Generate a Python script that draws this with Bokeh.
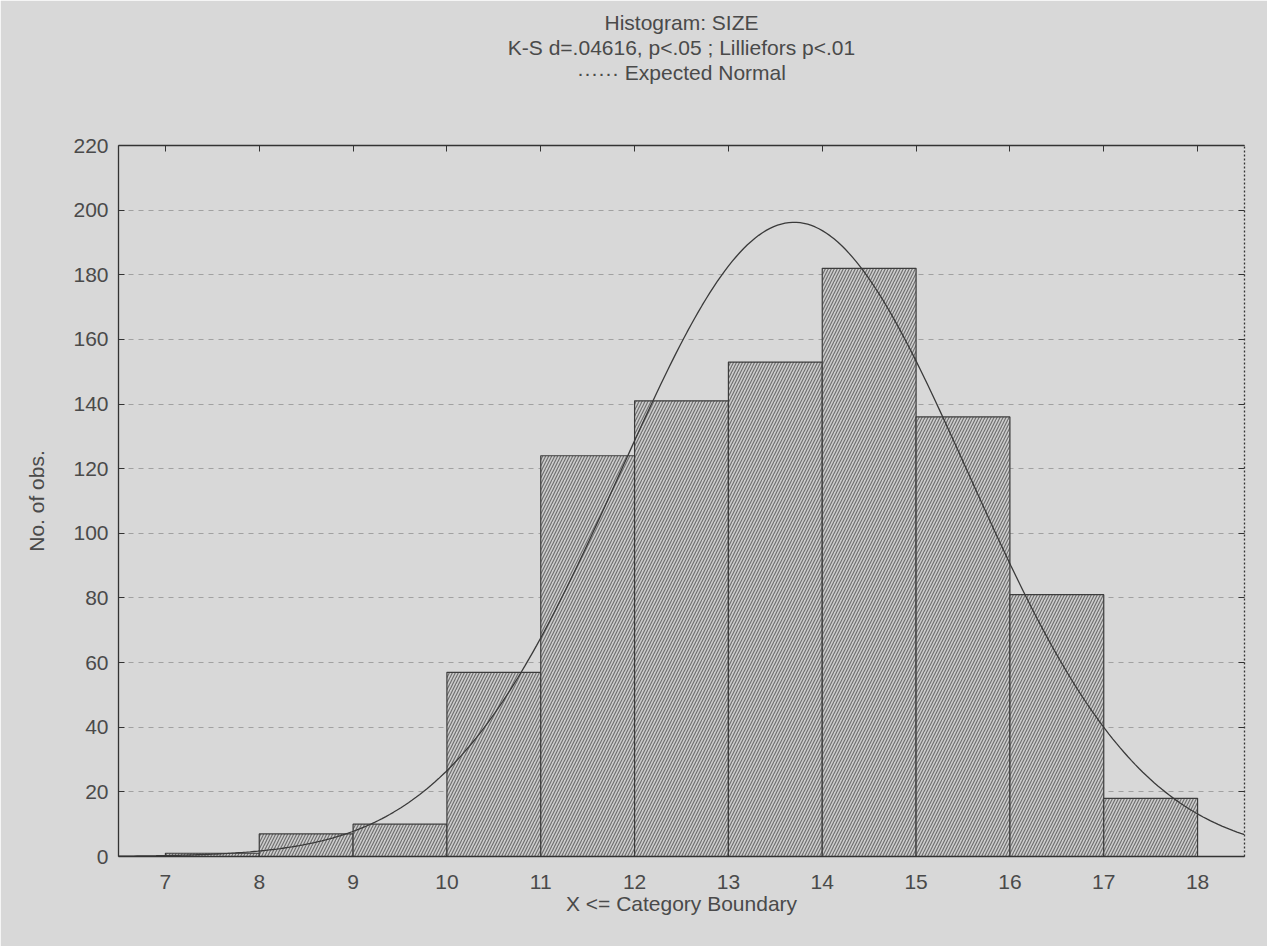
import numpy as np
from bokeh.plotting import figure
from bokeh.models import (LinearAxis, Title, Range1d, FixedTicker, ColumnDataSource)
from bokeh.embed import file_html
from bokeh.resources import INLINE

# ---- data ----
bin_edges = [7, 8, 9, 10, 11, 12, 13, 14, 15, 16, 17, 18]
counts = [1, 7, 10, 57, 124, 141, 153, 182, 136, 81, 18]
x_ticks = [7, 8, 9, 10, 11, 12, 13, 14, 15, 16, 17, 18]
y_ticks = [0, 20, 40, 60, 80, 100, 120, 140, 160, 180, 200, 220]
# expected-normal parameters (peak location and height)
normal_mean = 13.7
normal_sd = 1.85
bin_width = 1.0

BG = "#d8d8d8"
TXT = "#4a4a4a"
FONT = "Liberation Sans"

p = figure(width=1267, height=946, output_backend="svg", toolbar_location=None,
           x_range=Range1d(6.5, 18.5), y_range=Range1d(0, 220),
           x_axis_location=None, y_axis_location=None,
           min_border_left=118, min_border_right=23, min_border_top=145,
           min_border_bottom=90)
p.background_fill_color = BG
p.border_fill_color = BG
p.outline_line_color = None
p.xgrid.visible = False
p.ygrid.ticker = FixedTicker(ticks=y_ticks)
p.ygrid.grid_line_color = "#8a8a8a"
p.ygrid.grid_line_dash = "5 5"
p.ygrid.grid_line_alpha = 0.7

src = ColumnDataSource(dict(left=bin_edges[:-1], right=bin_edges[1:],
                            top=counts, bottom=[0] * len(counts)))
p.quad(left="left", right="right", top="top", bottom="bottom", source=src,
       fill_color="#cdcdcd", line_color="#3c3c3c", line_width=1.2,
       hatch_pattern="/", hatch_color="#707070", hatch_scale=6, hatch_weight=1.2)

total = sum(counts)
xs = np.linspace(6.5, 18.5, 300)
ys = total * bin_width / (normal_sd * np.sqrt(2 * np.pi)) * np.exp(-0.5 * ((xs - normal_mean) / normal_sd) ** 2)
p.line(xs, ys, line_color="#3a3a3a", line_width=1.3)

# axes
left = LinearAxis(ticker=FixedTicker(ticks=y_ticks), axis_label="No. of obs.")
bottom = LinearAxis(ticker=FixedTicker(ticks=x_ticks), axis_label="X <= Category Boundary")
top = LinearAxis(ticker=FixedTicker(ticks=x_ticks),
                 major_label_overrides={t: "" for t in x_ticks})
right = LinearAxis(ticker=FixedTicker(ticks=y_ticks),
                   major_label_overrides={t: "" for t in y_ticks})
for ax in (left, bottom, top, right):
    ax.axis_line_color = "#333333"
    ax.axis_line_width = 1.3
    ax.major_tick_line_color = "#333333"
    ax.minor_tick_line_color = None
    ax.major_label_text_font = FONT
    ax.major_label_text_font_size = "21px"
    ax.major_label_text_color = TXT
    ax.axis_label_text_font = FONT
    ax.axis_label_text_font_size = "21px"
    ax.axis_label_text_font_style = "normal"
    ax.axis_label_text_color = TXT
    ax.major_tick_out = 0
    ax.major_tick_in = 6
right.major_label_standoff = 0
top.major_label_standoff = 0
top.axis_label = " "
top.axis_label_text_font_size = "15px"
top.axis_label_standoff = 42
right.axis_line_dash = "2 2"
bottom.major_tick_in = 0
bottom.major_label_standoff = 18
bottom.axis_label_standoff = 0
left.major_label_standoff = 10
left.axis_label_standoff = 22
p.add_layout(left, "left")
p.add_layout(bottom, "below")
p.add_layout(top, "above")
p.add_layout(right, "right")

# title lines (nearest to the frame first)
titles = [("\u00b7\u00b7\u00b7\u00b7\u00b7\u00b7 Expected Normal", 0),
          ("K-S d=.04616, p<.05 ; Lilliefors p<.01", 0),
          ("Histogram: SIZE", 0)]
for txt, so in titles:
    t = Title(text=txt, align="center", text_font=FONT, text_font_size="21px",
              text_font_style="normal", text_color=TXT, standoff=so, offset=-45)
    p.add_layout(t, "above")

open("out.html", "w").write(file_html(p, INLINE))
